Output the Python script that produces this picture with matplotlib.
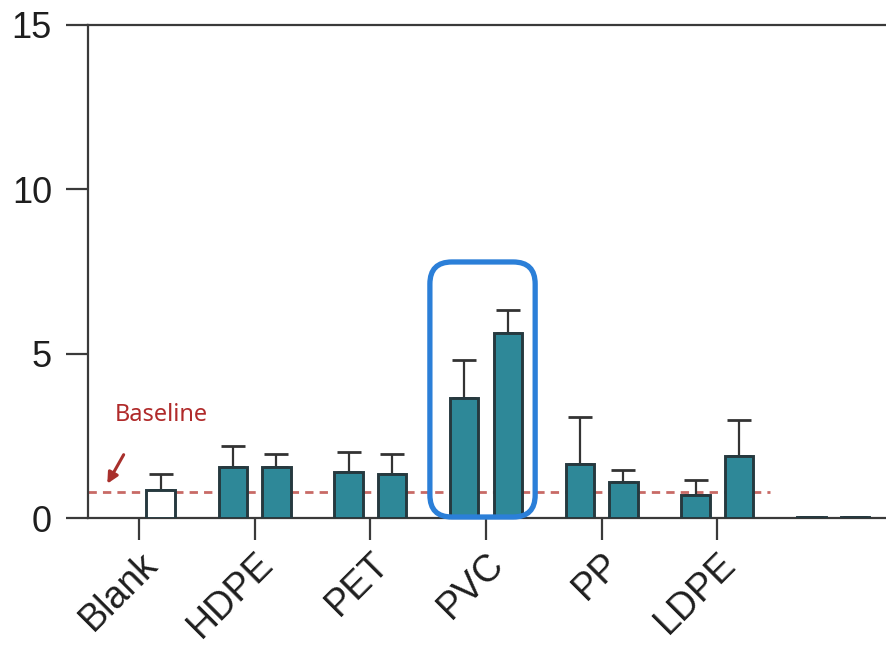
import matplotlib
matplotlib.use("Agg")
import matplotlib.pyplot as plt
import matplotlib.transforms as mtransforms
from matplotlib.patches import FancyBboxPatch
import numpy as np

# data
categories = ["Blank", "HDPE", "PET", "PVC", "PP", "LDPE", ""]
first_vals = [np.nan, 1.55, 1.40, 3.65, 1.64, 0.70, 0.04]
first_errs = [0, 0.65, 0.60, 1.15, 1.43, 0.45, 0]
second_vals = [0.85, 1.55, 1.35, 5.62, 1.09, 1.88, 0.04]
second_errs = [0.50, 0.40, 0.60, 0.70, 0.37, 1.10, 0]
baseline = 0.8
yticks = [0, 5, 10, 15]

teal = "#2e8898"
edge = "#26393f"

plt.rcParams['font.family'] = ['Liberation Sans', 'DejaVu Sans']

fig = plt.figure(figsize=(8.87, 6.5), dpi=100)
ax = fig.add_axes([88 / 887, 132 / 650, 799 / 887, 493 / 650])

x = np.arange(len(categories))
w = 0.245
off = 0.188

fill1 = [teal] * len(x)
fill2 = ["white"] + [teal] * (len(x) - 1)

ax.bar(x - off, first_vals, w, color=fill1, edgecolor=edge, linewidth=2.1, zorder=3)
ax.bar(x + off, second_vals, w, color=fill2, edgecolor=edge, linewidth=2.1, zorder=3)

err_kw = dict(fmt="none", ecolor="#333333", elinewidth=1.6, capsize=8.5, capthick=2.0, zorder=2)
ax.errorbar(x - off, first_vals, yerr=[np.zeros(len(x)), first_errs], **err_kw)
ax.errorbar(x + off, second_vals, yerr=[np.zeros(len(x)), second_errs], **err_kw)

# dashed baseline
ax.axhline(baseline, xmin=0, xmax=0.853, color="#c86a66", linestyle=(0, (3, 2.2)),
           linewidth=2.0, zorder=1)

ax.set_xlim(-0.44, 6.466)
ax.set_ylim(0, 15)
ax.set_yticks(yticks)
ax.set_yticklabels([str(t) for t in yticks])
ax.set_xticks(x[:-1])
ax.set_xticklabels(categories[:-1], rotation=45, ha="right", va="top",
                   rotation_mode="anchor")
offset = mtransforms.ScaledTranslation(24 / 100, -10 / 100, fig.dpi_scale_trans)
for lab in ax.get_xticklabels():
    lab.set_transform(lab.get_transform() + offset)
    lab.set_fontsize(27)

ax.tick_params(axis="both", length=16, width=1.6, color="#3a3a3a",
               labelcolor="#1e1e1e")
ax.tick_params(axis="y", labelsize=26, pad=10)
ax.tick_params(axis="x", pad=4)

for s in ["left", "bottom", "top"]:
    ax.spines[s].set_linewidth(1.6)
    ax.spines[s].set_color("#3a3a3a")
ax.spines["right"].set_visible(False)

# baseline label and arrow
ax.text(0.19, 3.13, "Baseline", color="#b02a2a", fontsize=17,
        family="Noto Sans", ha="center", va="center")
ax.annotate("", xy=(-0.285, 0.97), xytext=(-0.12, 2.0),
            arrowprops=dict(arrowstyle="-|>", color="#a8302c", lw=2.2,
                            mutation_scale=16))

# highlight box around PVC
pvc = categories.index("PVC")
box = FancyBboxPatch((pvc - 0.485, 0.03), 0.91, 7.76,
                     boxstyle="round,pad=0,rounding_size=0.19",
                     mutation_aspect=3.52, fill=False, edgecolor="#2b7fd8",
                     linewidth=3.8, zorder=5, clip_on=False)
ax.add_patch(box)

fig.savefig("out.png", dpi=100)
